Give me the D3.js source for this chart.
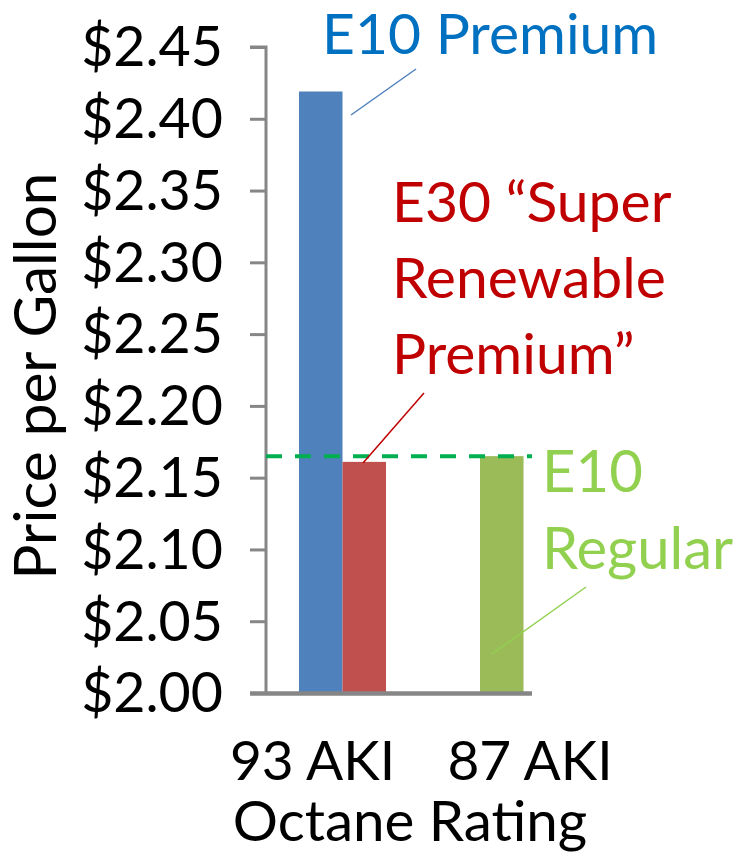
<!DOCTYPE html>
<html>
<head>
<meta charset="utf-8">
<script src="https://cdn.jsdelivr.net/npm/d3@7"></script>
<style>
  html, body { margin: 0; padding: 0; background: #fff; }
  svg { display: block; }
  text { font-family: Lato, "Liberation Sans", sans-serif; }
</style>
</head>
<body>
<svg id="chart" width="741" height="852"></svg>
<script>
// ---- data ----
const categories = ["93 AKI", "87 AKI"];
const seriesNames = ["s1", "s2"];
const series1Values = [2.419, null];   // E10 Premium (93 AKI)
const series2Values = [2.161, 2.165];  // E30 (93 AKI), E10 Regular (87 AKI)
const series1Colors = ["#4F81BD", "#4F81BD"];
const series2Colors = ["#C0504D", "#9BBB59"];
const regularPrice = 2.165;
const yTicks = [2.00, 2.05, 2.10, 2.15, 2.20, 2.25, 2.30, 2.35, 2.40, 2.45];
const yDomain = [2.00, 2.45];

const svg = d3.select("#chart");
const axisColor = "#868686";

// ---- scales ----
const y = d3.scaleLinear().domain(yDomain).range([693, 47]);
const x0 = d3.scaleBand().domain(categories).range([273.75, 548.75]).padding(0);
const x1 = d3.scaleBand().domain(seriesNames).range([0, x0.bandwidth()]).paddingInner(0).paddingOuter(0.58);
const xLabel = d3.scalePoint().domain(categories).range([312, 529.5]);

const plotLeft = 266, plotRight = 532;

// ---- bars ----
const bars = [];
categories.forEach((c, i) => {
  if (series1Values[i] != null) bars.push({cat: c, s: "s1", v: series1Values[i], color: series1Colors[i]});
  if (series2Values[i] != null) bars.push({cat: c, s: "s2", v: series2Values[i], color: series2Colors[i]});
});
svg.append("g").selectAll("rect").data(bars).join("rect")
  .attr("x", d => x0(d.cat) + x1(d.s))
  .attr("width", x1.bandwidth())
  .attr("y", d => y(d.v))
  .attr("height", d => y(yDomain[0]) - y(d.v))
  .attr("fill", d => d.color);

// ---- y axis ----
const yAxis = d3.axisLeft(y).tickValues(yTicks).tickFormat(d => "$" + d3.format(".2f")(d))
  .tickSize(16).tickPadding(27);
const gy = svg.append("g").attr("transform", `translate(${plotLeft},0)`).call(yAxis);
gy.select(".domain").attr("stroke", axisColor).attr("stroke-width", 3)
  .attr("d", `M-16,${y(2.45)}H0V${y(2.00)}`);
gy.selectAll(".tick line").attr("stroke", axisColor).attr("stroke-width", 3);
gy.selectAll(".tick text").attr("fill", "#000").style("font-size", "55.5px")
  .style("font-family", "Lato, sans-serif").attr("dy", "0.34em");

// ---- x axis baseline ----
svg.append("line")
  .attr("x1", 250).attr("x2", plotRight)
  .attr("y1", y(yDomain[0]) + 0.5).attr("y2", y(yDomain[0]) + 0.5)
  .attr("stroke", axisColor).attr("stroke-width", 4.5);

// ---- x labels ----
const xAxis = d3.axisBottom(xLabel).tickSize(0).tickPadding(0);
const gx = svg.append("g").attr("transform", `translate(0,${y(yDomain[0])})`).call(xAxis);
gx.select(".domain").remove();
gx.selectAll(".tick text").attr("fill", "#000").style("font-size", "55px")
  .style("font-family", "Lato, sans-serif").attr("y", 0).attr("dy", "87px");

svg.append("text").attr("x", 410).attr("y", 841).attr("text-anchor", "middle")
  .style("font-size", "56.5px").attr("fill", "#000").text("Octane Rating");

// ---- y label ----
svg.append("text").attr("transform", "translate(56,376) rotate(-90)")
  .attr("text-anchor", "middle").style("font-size", "58.5px").attr("fill", "#000")
  .text("Price per Gallon");

// ---- dashed regular price line ----
svg.append("line")
  .attr("x1", plotLeft).attr("x2", plotRight)
  .attr("y1", y(regularPrice)).attr("y2", y(regularPrice))
  .attr("stroke", "#00B050").attr("stroke-width", 4).attr("stroke-dasharray", "16,13");

// ---- annotations ----
svg.append("text").attr("x", 322).attr("y", 54).style("font-size", "57px")
  .attr("fill", "#0070C0").text("E10 Premium");
svg.append("line").attr("x1", 351).attr("y1", 115).attr("x2", 416).attr("y2", 69)
  .attr("stroke", "#4F81BD").attr("stroke-width", 1.5);

const e30 = svg.append("text").style("font-size", "57px").attr("fill", "#C00000");
["E30 \u201CSuper", "Renewable", "Premium\u201D"].forEach((t, i) => {
  e30.append("tspan").attr("x", 392).attr("y", 222 + i * 76).text(t);
});
svg.append("line").attr("x1", 424).attr("y1", 393).attr("x2", 363).attr("y2", 463)
  .attr("stroke", "#C00000").attr("stroke-width", 1.5);

const e10r = svg.append("text").style("font-size", "58px").attr("fill", "#92D050");
["E10", "Regular"].forEach((t, i) => {
  e10r.append("tspan").attr("x", 542).attr("y", 492 + i * 77).text(t);
});
svg.append("line").attr("x1", 586).attr("y1", 587).attr("x2", 492).attr("y2", 654)
  .attr("stroke", "#92D050").attr("stroke-width", 1.5);
</script>
</body>
</html>
